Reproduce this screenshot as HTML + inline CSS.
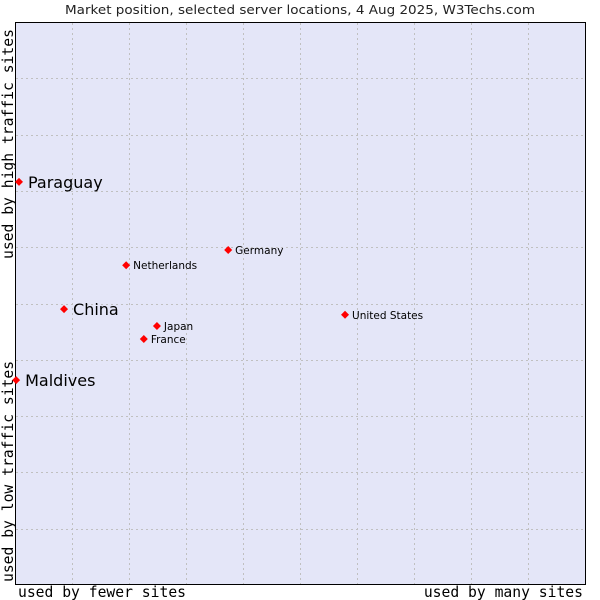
<!DOCTYPE html>
<html><head><meta charset="utf-8"><style>
body{margin:0;background:#fff;width:600px;height:600px;overflow:hidden}
svg{display:block}
</style></head><body>
<svg id="chart" width="600" height="600" xmlns="http://www.w3.org/2000/svg">
<text x="65" y="14" textLength="470" lengthAdjust="spacingAndGlyphs" font-family="DejaVu Sans, sans-serif" font-size="12.5" fill="#222">Market position, selected server locations, 4 Aug 2025, W3Techs.com</text>
<rect x="15.5" y="22.5" width="570" height="562" fill="#e4e6f8" stroke="#000" stroke-width="1"/>
<g id="grid"></g>
<text x="18" y="597" font-family="DejaVu Sans Mono, monospace" font-size="14.7" fill="#000">used by fewer sites</text>
<text x="583" y="597" text-anchor="end" font-family="DejaVu Sans Mono, monospace" font-size="14.7" fill="#000">used by many sites</text>
<text transform="translate(13,582) rotate(-90)" font-family="DejaVu Sans Mono, monospace" font-size="14.7" fill="#000">used by low traffic sites</text>
<text transform="translate(13,259) rotate(-90)" font-family="DejaVu Sans Mono, monospace" font-size="14.7" fill="#000">used by high traffic sites</text>
<g id="points"></g>
</svg>
<script>
const countries=["Paraguay","China","Maldives","Netherlands","Germany","Japan","France","United States"];
const xValues=[0.7,8.6,0.2,19.5,37.4,24.9,22.6,57.9];
const yValues=[71.6,49.0,36.4,56.8,59.5,46.0,43.7,48.0];
const bigLabel=[true,true,true,false,false,false,false,false];
const NS="http://www.w3.org/2000/svg";
const X0=15,X1=585,Y0=585,Y1=22;
function sx(v){return X0+v/100*(X1-X0);}
function sy(v){return Y0-v/100*(Y0-Y1);}
const grid=document.getElementById('grid');
for(let i=1;i<10;i++){
  const gx=Math.round(X0+i*57)+0.5;
  const l=document.createElementNS(NS,'line');
  
  
  l.setAttribute('x1',gx);l.setAttribute('x2',gx);l.setAttribute('y1',23);l.setAttribute('y2',584);
  l.setAttribute('stroke','#c0c0c0');l.setAttribute('stroke-dasharray','2,3');
  grid.appendChild(l);
  const gy=Math.round(Y0-i*56.3)+0.5;
  const h=document.createElementNS(NS,'line');
  
  
  h.setAttribute('x1',16);h.setAttribute('x2',585);h.setAttribute('y1',gy);h.setAttribute('y2',gy);
  h.setAttribute('stroke','#c0c0c0');h.setAttribute('stroke-dasharray','2,3');
  grid.appendChild(h);
}
const pts=document.getElementById('points');
countries.forEach((c,i)=>{
  const x=sx(xValues[i]),y=sy(yValues[i]);
  const r=4;
  const d=document.createElementNS(NS,'polygon');
  
  
  d.setAttribute('points',`${x},${y-r} ${x+r},${y} ${x},${y+r} ${x-r},${y}`);
  d.setAttribute('fill','#f00');
  pts.appendChild(d);
  const t=document.createElementNS(NS,'text');
  
  
  t.setAttribute('x',x+(bigLabel[i]?9:7));t.setAttribute('y',y+(bigLabel[i]?6:4));
  t.setAttribute('font-family','DejaVu Sans, sans-serif');
  t.setAttribute('font-size',bigLabel[i]?16:10.5);
  t.setAttribute('fill','#000');
  t.textContent=c;
  pts.appendChild(t);
});
</script>
</body></html>
